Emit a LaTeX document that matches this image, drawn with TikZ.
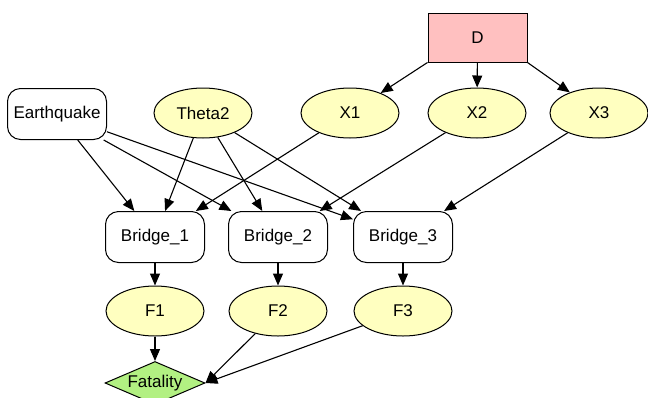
\documentclass[tikz,border=0pt]{standalone}
\usepackage{fontspec}
\setmainfont{Liberation Sans}
\usetikzlibrary{arrows.meta,shapes.geometric}
\definecolor{chance}{RGB}{255,255,192}
\definecolor{decision}{RGB}{255,192,192}
\definecolor{utility}{RGB}{178,240,130}
\tikzset{
  base/.style={draw=black, line width=1pt, font=\fontsize{17}{19}\selectfont, inner sep=0pt},
  chancenode/.style={base, ellipse, fill=chance, minimum width=98pt, minimum height=50pt},
  rbox/.style={base, rectangle, rounded corners=13pt, fill=white, minimum width=99pt, minimum height=51pt},
  decisionnode/.style={base, rectangle, fill=decision, minimum width=99pt, minimum height=49pt},
  utilitynode/.style={base, diamond, aspect=2.4, fill=utility, minimum width=100pt, minimum height=42pt},
  link/.style={line width=1.1pt, -{Triangle[length=12pt,width=10pt]}},
}
\begin{document}
\begin{tikzpicture}[x=1pt,y=-1pt]
  \useasboundingbox (0,0) rectangle (648,397);
  \begin{scope}
  \clip (0,0) rectangle (648,397);
  % top layer
  \node[decisionnode] (D) at (477.5,37.5) {D};
  \node[rbox] (EQ) at (57,114) {Earthquake};
  \node[chancenode] (T2) at (203,113) {Theta2};
  \node[chancenode] (X1) at (350,113) {X1};
  \node[chancenode] (X2) at (477,113) {X2};
  \node[chancenode] (X3) at (599,113) {X3};
  % bridges
  \node[rbox] (B1) at (155,237) {Bridge\_1};
  \node[rbox] (B2) at (278,237) {Bridge\_2};
  \node[rbox] (B3) at (403,237) {Bridge\_3};
  % failure nodes
  \node[chancenode] (F1) at (155,311) {F1};
  \node[chancenode] (F2) at (278,311) {F2};
  \node[chancenode] (F3) at (403,311) {F3};
  % utility
  \node[utilitynode, minimum width=100pt, minimum height=43pt] (FA) at (155,383) {Fatality};

  \draw[link] (D.south west) -- (X1);
  \draw[link] (D) -- (X2);
  \draw[link] (D.south east) -- (X3);

  \draw[link] (EQ) -- (B1);
  \draw[link] (EQ) -- (B2);
  \draw[link] (EQ) -- (B3);
  \draw[link] (T2) -- (B1);
  \draw[link] (T2) -- (B2);
  \draw[link] (T2) -- (B3);
  \draw[link] (X1) -- (B1);
  \draw[link] (X2) -- (B2);
  \draw[link] (X3) -- (B3);

  \draw[link] (B1) -- (F1);
  \draw[link] (B2) -- (F2);
  \draw[link] (B3) -- (F3);

  \draw[link] (F1) -- (FA);
  \draw[link] (F2) -- (FA.east);
  \draw[link] (F3) -- (FA.east);
  \end{scope}
\end{tikzpicture}
\end{document}
